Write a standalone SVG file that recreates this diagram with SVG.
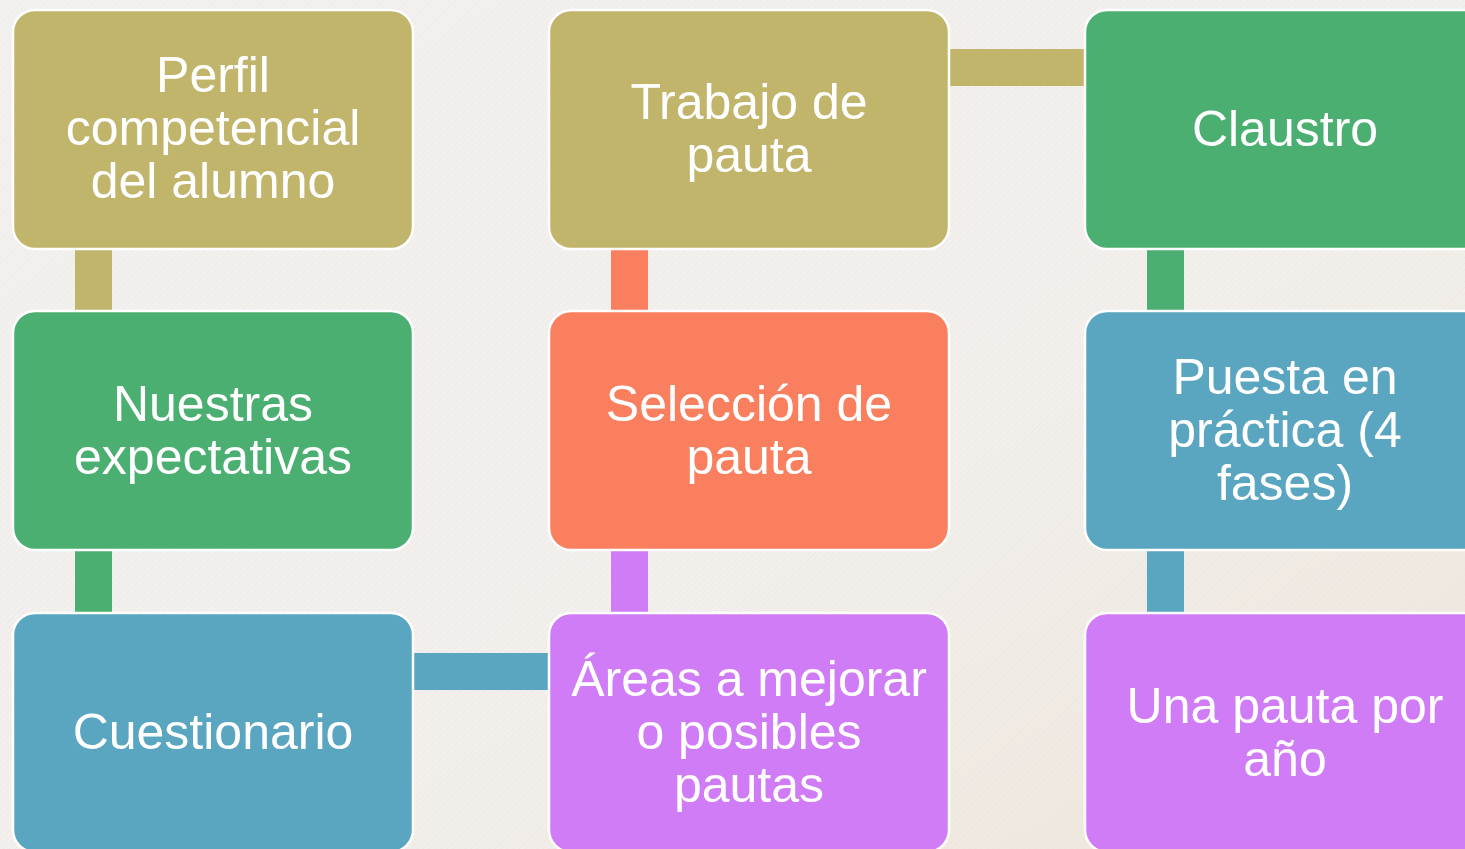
<svg xmlns="http://www.w3.org/2000/svg" width="1465" height="849" viewBox="0 0 1465 849">
<defs>
<linearGradient id="bg" x1="0" y1="0" x2="1" y2="1">
<stop offset="0" stop-color="#F3F1EF"/>
<stop offset="0.6" stop-color="#F2EFEC"/>
<stop offset="1" stop-color="#EEE5D8"/>
</linearGradient>
<pattern id="tex" width="6" height="6" patternUnits="userSpaceOnUse">
<path d="M0 6 L6 0" stroke="#E6E2DE" stroke-width="0.8"/>
</pattern>
<style>
.box{stroke:#FFFFFF;stroke-width:2.5}
.t{font-family:"Liberation Sans",Arial,sans-serif;font-size:50px;fill:#FFFFFF;text-anchor:middle}
.olive{fill:#C1B56C}.green{fill:#4CAF72}.orange{fill:#FA7F5E}.blue{fill:#5AA6C1}.purple{fill:#D07CF6}
</style>
</defs>
<rect width="1465" height="849" fill="url(#bg)"/>
<rect width="1465" height="849" fill="url(#tex)" opacity="0.6"/>
<g id="connectors">
<rect class="olive" x="75" y="248" width="37" height="64"/>
<rect class="green" x="75" y="549" width="37" height="65"/>
<rect class="blue" x="412" y="653" width="138" height="37"/>
<rect class="purple" x="611" y="549" width="37" height="65"/>
<rect class="orange" x="611" y="248" width="37" height="64"/>
<rect class="olive" x="948" y="49" width="138" height="37"/>
<rect class="green" x="1147" y="248" width="37" height="64"/>
<rect class="blue" x="1147" y="549" width="37" height="65"/>
</g>
<g id="perfil">
<rect class="box olive" x="13" y="10" width="400" height="239" rx="22"/>
<text class="t" x="213" y="92">Perfil</text>
<text class="t" x="213" y="145">competencial</text>
<text class="t" x="213" y="198">del alumno</text>
</g>
<g id="trabajo">
<rect class="box olive" x="549" y="10" width="400" height="239" rx="22"/>
<text class="t" x="749" y="119">Trabajo de</text>
<text class="t" x="749" y="172">pauta</text>
</g>
<g id="claustro">
<rect class="box green" x="1085" y="10" width="400" height="239" rx="22"/>
<text class="t" x="1285" y="146">Claustro</text>
</g>
<g id="nuestras">
<rect class="box green" x="13" y="311" width="400" height="239" rx="22"/>
<text class="t" x="213" y="421">Nuestras</text>
<text class="t" x="213" y="474">expectativas</text>
</g>
<g id="seleccion">
<rect class="box orange" x="549" y="311" width="400" height="239" rx="22"/>
<text class="t" x="749" y="421">Selección de</text>
<text class="t" x="749" y="474">pauta</text>
</g>
<g id="puesta">
<rect class="box blue" x="1085" y="311" width="400" height="239" rx="22"/>
<text class="t" x="1285" y="394">Puesta en</text>
<text class="t" x="1285" y="447">práctica (4</text>
<text class="t" x="1285" y="500">fases)</text>
</g>
<g id="cuestionario">
<rect class="box blue" x="13" y="613" width="400" height="239" rx="22"/>
<text class="t" x="213" y="749">Cuestionario</text>
</g>
<g id="areas">
<rect class="box purple" x="549" y="613" width="400" height="239" rx="22"/>
<text class="t" x="749" y="696">Áreas a mejorar</text>
<text class="t" x="749" y="749">o posibles</text>
<text class="t" x="749" y="802">pautas</text>
</g>
<g id="una">
<rect class="box purple" x="1085" y="613" width="400" height="239" rx="22"/>
<text class="t" x="1285" y="723">Una pauta por</text>
<text class="t" x="1285" y="776">año</text>
</g>
</svg>
